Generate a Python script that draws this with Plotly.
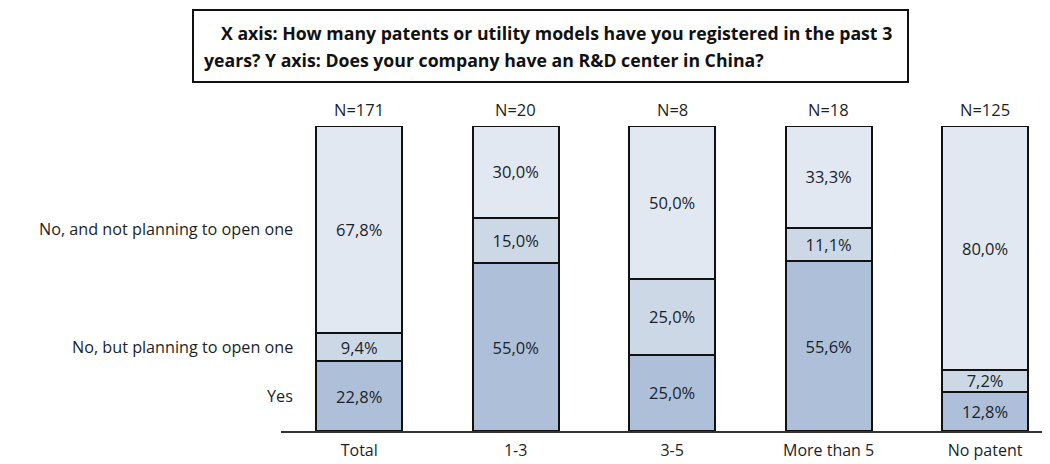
import plotly.graph_objects as go

categories = ["Total", "1-3", "3-5", "More than 5", "No patent"]
n_labels = ["N=171", "N=20", "N=8", "N=18", "N=125"]
series_names = ["Yes", "No, but planning to open one", "No, and not planning to open one"]
yes_vals = [22.8, 55.0, 25.0, 55.6, 12.8]
planning_vals = [9.4, 15.0, 25.0, 11.1, 7.2]
not_planning_vals = [67.8, 30.0, 50.0, 33.3, 80.0]
title_lines = ["X axis: How many patents or utility models have you registered in the past 3",
               "years? Y axis: Does your company have an R&D center in China?"]
colors = ["#aebfd9", "#cdd8e7", "#e2e8f2"]

FONT = "Open Sans"
TXT = "#1a1f29"

fig = go.Figure()
x_idx = list(range(len(categories)))
for name, vals, col in zip(series_names, [yes_vals, planning_vals, not_planning_vals], colors):
    fig.add_trace(go.Bar(
        x=x_idx, y=vals, name=name, width=0.55,
        marker=dict(color=col, line=dict(color="#111111", width=2)),
        text=[f"{v:.1f}%".replace(".", ",") for v in vals],
        textposition="inside", insidetextanchor="middle",
        constraintext="none",
        textfont=dict(family=FONT, size=16.5, color=TXT),
        hoverinfo="skip",
    ))

# N labels above bars
for i, lab in enumerate(n_labels):
    fig.add_annotation(x=i, y=100, yref="y", xref="x", text=lab, showarrow=False,
                       yanchor="bottom", yshift=3, font=dict(family=FONT, size=16.5, color=TXT))

# y-category labels at the Total bar segment centres
cum = 0
for name, vals in zip(series_names, [yes_vals, planning_vals, not_planning_vals]):
    mid = cum + vals[0] / 2
    cum += vals[0]
    fig.add_annotation(x=0, xref="paper", xanchor="right", xshift=14, y=mid, yref="y",
                       text=name, showarrow=False, font=dict(family=FONT, size=16.2, color=TXT))

# title box
PW, PH, PL, PB = 769, 305, 273, 423
def px(x): return (x - PL) / PW
def py(y): return (PB - y) / PH

fig.add_shape(type="rect", xref="paper", yref="paper",
              x0=px(185), x1=px(900), y0=py(74), y1=py(2),
              line=dict(color="#111111", width=2), fillcolor="white", layer="above")
fig.add_annotation(x=px(211), y=py(25), xref="paper", yref="paper", xanchor="left", yanchor="middle",
                   text=title_lines[0], showarrow=False,
                   font=dict(family=FONT, size=17.7, color="#111111", weight="bold"))
fig.add_annotation(x=px(194), y=py(52), xref="paper", yref="paper", xanchor="left", yanchor="middle",
                   text=title_lines[1], showarrow=False,
                   font=dict(family=FONT, size=17.7, color="#111111", weight="bold"))

fig.update_layout(
    barmode="stack", width=1050, height=464,
    margin=dict(l=273, r=8, t=118, b=41),
    paper_bgcolor="white", plot_bgcolor="white",
    showlegend=False,
    xaxis=dict(range=[-0.5, 4.415], tickvals=x_idx, ticktext=categories,
               showline=True, linecolor="#333333", linewidth=2, showgrid=False,
               zeroline=False, ticks="", ticklabelstandoff=4,
               tickfont=dict(family=FONT, size=16, color=TXT),
               fixedrange=True),
    yaxis=dict(range=[0, 100], visible=False, fixedrange=True),
)

fig.write_html("out.html")
